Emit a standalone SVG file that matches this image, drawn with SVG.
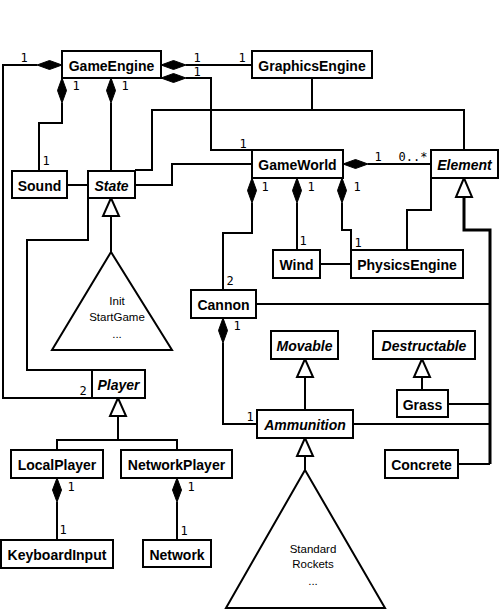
<svg xmlns="http://www.w3.org/2000/svg" width="499" height="610" viewBox="0 0 499 610">
<style>
.b{fill:#fff;stroke:#000;stroke-width:2}
.l{fill:none;stroke:#000;stroke-width:2}
.t{stroke-width:3}
.d{fill:#000;stroke:#000;stroke-width:1}
.h{fill:#fff;stroke:#000;stroke-width:2}
.n{font-family:"Liberation Sans",Arial,sans-serif;font-size:14px;font-weight:bold;text-anchor:middle;fill:#000}
.i{font-style:italic}
.m{font-family:"DejaVu Sans Mono",monospace;font-size:12px;text-anchor:middle;fill:#000}
.s{font-family:"Liberation Sans",Arial,sans-serif;font-size:11.5px;text-anchor:middle;fill:#000}
</style>
<rect width="499" height="610" fill="#fff"/>
<g id="connectors">
<path class="l" d="M37,65 H3 V398 H92"/>
<path class="l" d="M62,103 V123 H39 V171"/>
<path class="l" d="M111,103 V170"/>
<path class="l" d="M186,65 H252"/>
<path class="l" d="M186,78 H211 V150 H252"/>
<path class="l" d="M312,78 V110"/>
<path class="l" d="M135,170 H152 V110 H464 V150"/>
<path class="l" d="M135,185 H172 V164 H252"/>
<path class="l" d="M67,185 H88"/>
<path class="l" d="M88,198 V240 H27 V370 H92"/>
<path class="l" d="M111,216 V252"/>
<path class="l" d="M368,164 H431"/>
<path class="l" d="M252,203 V233 H223 V290"/>
<path class="l" d="M297,203 V250"/>
<path class="l" d="M342,203 V230 H351 V250"/>
<path class="l" d="M320,264 H351"/>
<path class="l" d="M407,250 V210 H431 V178"/>
<path class="l t" d="M464,197 V230 H490 V464"/>
<path class="l" d="M256,304 H490 M448,404 H490 M353,424 H490 M458,464 H490"/>
<path class="l" d="M223,343 V424 H257"/>
<path class="l" d="M305,377 V410"/>
<path class="l" d="M422,377 V390"/>
<path class="l" d="M305,456 V470"/>
<path class="l" d="M118,416 V440 M57,450 V440 H177 V450"/>
<path class="l" d="M57,502 V540"/>
<path class="l" d="M177,502 V540"/>
<polygon class="d" points="62,65 49.5,60.5 37,65 49.5,69.5"/>
<polygon class="d" points="62,78 66.5,90.5 62,103 57.5,90.5"/>
<polygon class="d" points="111,78 115.5,90.5 111,103 106.5,90.5"/>
<polygon class="d" points="161,65 173.5,60.5 186,65 173.5,69.5"/>
<polygon class="d" points="161,78 173.5,73.5 186,78 173.5,82.5"/>
<polygon class="d" points="343,164 355.5,159.5 368,164 355.5,168.5"/>
<polygon class="d" points="252,178 256.5,190.5 252,203 247.5,190.5"/>
<polygon class="d" points="297,178 301.5,190.5 297,203 292.5,190.5"/>
<polygon class="d" points="342,178 346.5,190.5 342,203 337.5,190.5"/>
<polygon class="d" points="223,318 227.5,330.5 223,343 218.5,330.5"/>
<polygon class="d" points="57,478 61.5,490 57,502 52.5,490"/>
<polygon class="d" points="177,478 181.5,490 177,502 172.5,490"/>
<polygon class="h" points="111,198 103,216 119,216"/>
<polygon class="h" points="464,178 456,197 472,197"/>
<polygon class="h" points="118,398 110,416 126,416"/>
<polygon class="h" points="305,359 297,377 313,377"/>
<polygon class="h" points="422,359 414,377 430,377"/>
<polygon class="h" points="305,438 297,456 313,456"/>
<text class="m" x="24" y="62">1</text>
<text class="m" x="83" y="395">2</text>
<text class="m" x="76" y="90">1</text>
<text class="m" x="46" y="165">1</text>
<text class="m" x="125" y="90">1</text>
<text class="m" x="197" y="62">1</text>
<text class="m" x="242" y="62">1</text>
<text class="m" x="197" y="76">1</text>
<text class="m" x="243" y="148">1</text>
<text class="m" x="378" y="161">1</text>
<text class="m" x="413" y="161">0..*</text>
<text class="m" x="265" y="191">1</text>
<text class="m" x="311" y="191">1</text>
<text class="m" x="357" y="191">1</text>
<text class="m" x="230" y="285">2</text>
<text class="m" x="303" y="245">1</text>
<text class="m" x="358" y="247">1</text>
<text class="m" x="237" y="330">1</text>
<text class="m" x="250" y="421">1</text>
<text class="m" x="71" y="491">1</text>
<text class="m" x="63" y="534">1</text>
<text class="m" x="191" y="491">1</text>
<text class="m" x="184" y="535">1</text>
</g>
<g id="GameEngine"><rect class="b" x="62" y="51" width="99" height="27"/><text class="n" x="111.5" y="71">GameEngine</text></g>
<g id="GraphicsEngine"><rect class="b" x="252" y="51" width="120" height="27"/><text class="n" x="312" y="71">GraphicsEngine</text></g>
<g id="Sound"><rect class="b" x="12" y="171" width="55" height="27"/><text class="n" x="39.5" y="191">Sound</text></g>
<g id="State"><rect class="b" x="88" y="171" width="47" height="27"/><text class="n i" x="111.5" y="191">State</text></g>
<g id="GameWorld"><rect class="b" x="252" y="150" width="91" height="28"/><text class="n" x="297.5" y="170">GameWorld</text></g>
<g id="Element"><rect class="b" x="431" y="150" width="67" height="28"/><text class="n i" x="464.5" y="170">Element</text></g>
<g id="Wind"><rect class="b" x="273" y="250" width="47" height="28"/><text class="n" x="296.5" y="270">Wind</text></g>
<g id="PhysicsEngine"><rect class="b" x="351" y="250" width="112" height="28"/><text class="n" x="407" y="270">PhysicsEngine</text></g>
<g id="Cannon"><rect class="b" x="191" y="290" width="65" height="28"/><text class="n" x="223.5" y="310">Cannon</text></g>
<g id="Movable"><rect class="b" x="271" y="331" width="67" height="28"/><text class="n i" x="304.5" y="351">Movable</text></g>
<g id="Destructable"><rect class="b" x="373" y="331" width="102" height="28"/><text class="n i" x="424" y="351">Destructable</text></g>
<g id="Grass"><rect class="b" x="397" y="390" width="51" height="27"/><text class="n" x="422.5" y="410">Grass</text></g>
<g id="Ammunition"><rect class="b" x="257" y="410" width="96" height="28"/><text class="n i" x="305" y="430">Ammunition</text></g>
<g id="Concrete"><rect class="b" x="385" y="450" width="73" height="28"/><text class="n" x="421.5" y="470">Concrete</text></g>
<g id="Player"><rect class="b" x="92" y="370" width="53" height="28"/><text class="n i" x="118.5" y="390">Player</text></g>
<g id="LocalPlayer"><rect class="b" x="11" y="450" width="92" height="28"/><text class="n" x="57" y="470">LocalPlayer</text></g>
<g id="NetworkPlayer"><rect class="b" x="121" y="450" width="111" height="28"/><text class="n" x="176.5" y="470">NetworkPlayer</text></g>
<g id="KeyboardInput"><rect class="b" x="1" y="540" width="112" height="28"/><text class="n" x="57" y="560">KeyboardInput</text></g>
<g id="Network"><rect class="b" x="143" y="540" width="68" height="27"/><text class="n" x="177" y="560">Network</text></g>
<g id="StateSubclasses"><polygon class="h" points="111,252 52,350 172,350"/><text class="s" x="117" y="305">Init</text><text class="s" x="117" y="321">StartGame</text><text class="s" x="117" y="338">...</text></g>
<g id="AmmunitionSubclasses"><polygon class="h" points="305,470 226,608 385,608"/><text class="s" x="313" y="553">Standard</text><text class="s" x="313" y="568">Rockets</text><text class="s" x="313" y="585">...</text></g>
</svg>
